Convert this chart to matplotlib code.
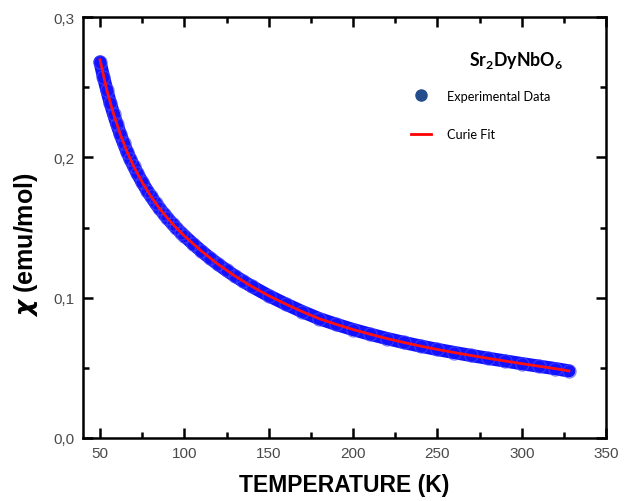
import numpy as np
import matplotlib
matplotlib.use("Agg")
import matplotlib.pyplot as plt
from matplotlib.lines import Line2D
from matplotlib.ticker import MultipleLocator, FuncFormatter

# temperature (K) and susceptibility (emu/mol)
temp = [50, 52, 54, 56, 58, 60, 62, 64, 66, 68, 70, 72, 75, 78, 80, 83, 85,
        88, 90, 93, 95, 98, 100, 105, 110, 115, 120, 125, 130, 135, 140, 150,
        160, 170, 180, 190, 200, 210, 220, 230, 240, 250, 260, 270, 280, 290,
        300, 310, 320, 328]
chi_exp = [0.268, 0.2575, 0.248, 0.239, 0.231, 0.2235, 0.2165, 0.210, 0.204,
           0.1985, 0.1935, 0.1888, 0.1822, 0.1762, 0.1725, 0.1672, 0.164,
           0.1595, 0.1566, 0.1525, 0.150, 0.1463, 0.144, 0.1385, 0.1333,
           0.1284, 0.1238, 0.1195, 0.1154, 0.1116, 0.108, 0.1014, 0.0955,
           0.090, 0.085, 0.081, 0.0773, 0.074, 0.0709, 0.0681, 0.0655, 0.0631,
           0.0609, 0.0588, 0.0568, 0.0549, 0.053, 0.0512, 0.0494, 0.0478]
temp_fit = [50, 54, 58, 62, 66, 70, 75, 80, 85, 90, 95, 100, 110, 120, 130,
            140, 150, 160, 170, 180, 190, 200, 210, 220, 230, 240, 250, 260,
            270, 280, 290, 300, 310, 320, 328]
chi_fit = [0.2695, 0.248, 0.231, 0.2165, 0.204, 0.1935, 0.1822, 0.1725,
           0.164, 0.1566, 0.150, 0.144, 0.1333, 0.1238, 0.1154, 0.108, 0.1014,
           0.0955, 0.090, 0.085, 0.081, 0.0773, 0.074, 0.0709, 0.0681, 0.0655,
           0.0631, 0.0609, 0.0588, 0.0568, 0.0549, 0.053, 0.0512, 0.0494, 0.0478]

plt.rcParams["mathtext.fontset"] = "custom"
plt.rcParams["mathtext.bf"] = "Lato:bold"
plt.rcParams["mathtext.rm"] = "Lato:bold"
plt.rcParams["mathtext.it"] = "DejaVu Sans:italic:bold"

fig = plt.figure(figsize=(6.3, 5.02), dpi=100)
ax = fig.add_axes([0.132, 0.1255, 0.830, 0.8386])

# experimental data: dense open circles -> thick band
ax.plot(temp, chi_exp, color="#1212ff", lw=9.5, solid_capstyle="round",
        solid_joinstyle="round", zorder=2)
ax.plot(temp, chi_exp, ls="none", marker="o", ms=9.5, mfc="none",
        mec="#4a4aff", mew=0.8, alpha=0.7, zorder=3)
ax.plot(temp_fit, chi_fit, color="#ff1010", lw=2.0, zorder=4)

ax.set_xlim(40, 350)
ax.set_ylim(0, 0.3)
ax.xaxis.set_major_locator(MultipleLocator(50))
ax.xaxis.set_minor_locator(MultipleLocator(25))
ax.yaxis.set_major_locator(MultipleLocator(0.1))
ax.yaxis.set_minor_locator(MultipleLocator(0.05))
ax.yaxis.set_major_formatter(FuncFormatter(lambda v, p: f"{v:.1f}".replace(".", ",")))

for s in ax.spines.values():
    s.set_linewidth(1.8)
ax.tick_params(which="both", direction="in", top=True, right=True, width=1.8,
               labelsize=11, labelcolor="#4a4a4a", pad=6)
ax.tick_params(which="major", length=7)
ax.tick_params(which="minor", length=4)
for lab in ax.get_xticklabels() + ax.get_yticklabels():
    lab.set_fontfamily("Liberation Sans")

ax.set_xlabel("TEMPERATURE (K)", fontsize=16.5, fontweight="bold",
              family="Liberation Sans", labelpad=9)
ax.set_ylabel(r"$\chi$ (emu/mol)", fontsize=18, fontweight="bold",
              family="Liberation Sans")
ax.yaxis.set_label_coords(-0.082, 0.461)

ax.text(0.828, 0.90, "Sr$_2$DyNbO$_6$", transform=ax.transAxes, ha="center",
        va="center", fontsize=12.8, fontweight="bold", family="Lato")

handles = [Line2D([], [], ls="none", marker="o", ms=8, color="#234d8a"),
           Line2D([], [], color="red", lw=2)]
ax.legend(handles, ["Experimental Data", "Curie Fit"], loc="upper left",
          bbox_to_anchor=(0.605, 0.855), frameon=False, handlelength=1.6,
          handletextpad=1.2, labelspacing=2.1, prop={"family": "Lato", "size": 9.2})

fig.savefig("out.png", dpi=100)
